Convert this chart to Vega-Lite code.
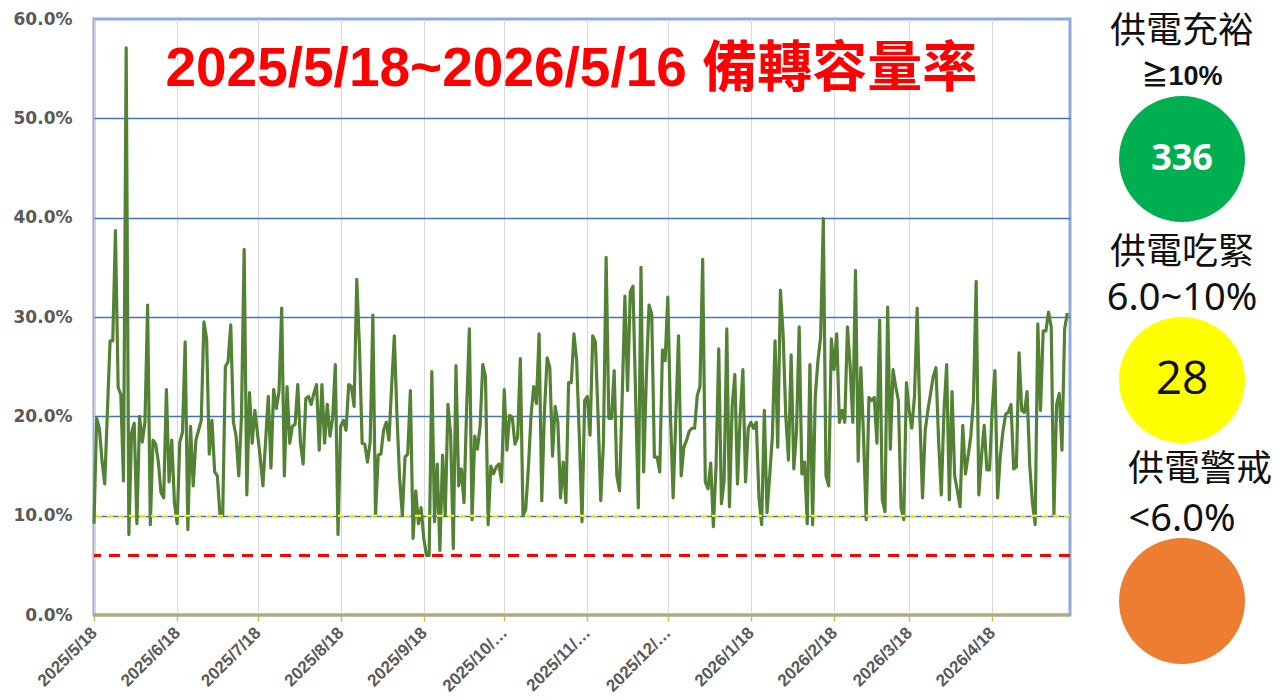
{
  "$schema": "https://vega.github.io/schema/vega-lite/v6.json",
  "padding": {"left": 11, "top": 8, "right": 5, "bottom": 0},
  "background": "white",
  "bounds": "flush",
  "spacing": 12,
  "config": {"font": "Liberation Sans"},
  "hconcat": [
    {
      "width": 976,
      "height": 596,
      "view": {"stroke": "#8EAADB", "strokeWidth": 3},
      "data": {"values": [
        {"d":"2025/5/18","v":9.2},{"d":"2025/5/19","v":19.8},{"d":"2025/5/20","v":18.8},{"d":"2025/5/21","v":15.5},{"d":"2025/5/22","v":13.2},{"d":"2025/5/23","v":20.5},{"d":"2025/5/24","v":27.6},{"d":"2025/5/25","v":27.6},{"d":"2025/5/26","v":38.7},{"d":"2025/5/27","v":22.9},{"d":"2025/5/28","v":22.2},{"d":"2025/5/29","v":13.5},{"d":"2025/5/30","v":57.1},{"d":"2025/5/31","v":8.1},
        {"d":"2025/6/1","v":18.3},{"d":"2025/6/2","v":19.3},{"d":"2025/6/3","v":9.2},{"d":"2025/6/4","v":20.0},{"d":"2025/6/5","v":17.4},{"d":"2025/6/6","v":19.4},{"d":"2025/6/7","v":31.2},{"d":"2025/6/8","v":9.1},{"d":"2025/6/9","v":17.6},{"d":"2025/6/10","v":17.2},{"d":"2025/6/11","v":15.4},{"d":"2025/6/12","v":12.3},{"d":"2025/6/13","v":11.8},{"d":"2025/6/14","v":22.7},{"d":"2025/6/15","v":13.4},{"d":"2025/6/16","v":17.6},{"d":"2025/6/17","v":11.3},{"d":"2025/6/18","v":9.2},{"d":"2025/6/19","v":17.4},{"d":"2025/6/20","v":18.4},{"d":"2025/6/21","v":27.5},{"d":"2025/6/22","v":8.6},{"d":"2025/6/23","v":19.0},{"d":"2025/6/24","v":13.0},{"d":"2025/6/25","v":17.6},{"d":"2025/6/26","v":18.6},{"d":"2025/6/27","v":19.6},{"d":"2025/6/28","v":29.5},{"d":"2025/6/29","v":27.8},{"d":"2025/6/30","v":16.2},
        {"d":"2025/7/1","v":19.6},{"d":"2025/7/2","v":14.4},{"d":"2025/7/3","v":14.0},{"d":"2025/7/4","v":10.0},{"d":"2025/7/5","v":10.0},{"d":"2025/7/6","v":25.0},{"d":"2025/7/7","v":25.5},{"d":"2025/7/8","v":29.2},{"d":"2025/7/9","v":19.4},{"d":"2025/7/10","v":18.0},{"d":"2025/7/11","v":14.0},{"d":"2025/7/12","v":20.0},{"d":"2025/7/13","v":36.8},{"d":"2025/7/14","v":12.1},{"d":"2025/7/15","v":22.4},{"d":"2025/7/16","v":17.3},{"d":"2025/7/17","v":20.6},{"d":"2025/7/18","v":18.2},{"d":"2025/7/19","v":15.9},{"d":"2025/7/20","v":13.0},{"d":"2025/7/21","v":17.5},{"d":"2025/7/22","v":22.0},{"d":"2025/7/23","v":14.8},{"d":"2025/7/24","v":22.7},{"d":"2025/7/25","v":20.8},{"d":"2025/7/26","v":22.5},{"d":"2025/7/27","v":30.9},{"d":"2025/7/28","v":14.0},{"d":"2025/7/29","v":23.0},{"d":"2025/7/30","v":17.3},{"d":"2025/7/31","v":19.0},
        {"d":"2025/8/1","v":19.2},{"d":"2025/8/2","v":23.2},{"d":"2025/8/3","v":17.3},{"d":"2025/8/4","v":15.2},{"d":"2025/8/5","v":21.8},{"d":"2025/8/6","v":22.0},{"d":"2025/8/7","v":21.2},{"d":"2025/8/8","v":22.3},{"d":"2025/8/9","v":23.2},{"d":"2025/8/10","v":16.6},{"d":"2025/8/11","v":23.2},{"d":"2025/8/12","v":17.3},{"d":"2025/8/13","v":21.2},{"d":"2025/8/14","v":18.0},{"d":"2025/8/15","v":19.8},{"d":"2025/8/16","v":25.2},{"d":"2025/8/17","v":8.1},{"d":"2025/8/18","v":19.0},{"d":"2025/8/19","v":19.6},{"d":"2025/8/20","v":18.6},{"d":"2025/8/21","v":23.2},{"d":"2025/8/22","v":23.0},{"d":"2025/8/23","v":21.0},{"d":"2025/8/24","v":33.8},{"d":"2025/8/25","v":27.0},{"d":"2025/8/26","v":17.3},{"d":"2025/8/27","v":17.2},{"d":"2025/8/28","v":15.4},{"d":"2025/8/29","v":17.4},{"d":"2025/8/30","v":30.2},{"d":"2025/8/31","v":10.0},
        {"d":"2025/9/1","v":16.1},{"d":"2025/9/2","v":16.2},{"d":"2025/9/3","v":18.6},{"d":"2025/9/4","v":19.4},{"d":"2025/9/5","v":17.6},{"d":"2025/9/6","v":23.0},{"d":"2025/9/7","v":28.1},{"d":"2025/9/8","v":20.0},{"d":"2025/9/9","v":13.7},{"d":"2025/9/10","v":10.0},{"d":"2025/9/11","v":15.9},{"d":"2025/9/12","v":16.2},{"d":"2025/9/13","v":22.6},{"d":"2025/9/14","v":7.7},{"d":"2025/9/15","v":12.5},{"d":"2025/9/16","v":9.2},{"d":"2025/9/17","v":10.8},{"d":"2025/9/18","v":7.7},{"d":"2025/9/19","v":6.0},{"d":"2025/9/20","v":6.0},{"d":"2025/9/21","v":24.5},{"d":"2025/9/22","v":9.4},{"d":"2025/9/23","v":15.2},{"d":"2025/9/24","v":6.5},{"d":"2025/9/25","v":16.1},{"d":"2025/9/26","v":10.0},{"d":"2025/9/27","v":21.2},{"d":"2025/9/28","v":18.2},{"d":"2025/9/29","v":6.7},{"d":"2025/9/30","v":25.1},
        {"d":"2025/10/1","v":13.0},{"d":"2025/10/2","v":14.7},{"d":"2025/10/3","v":11.3},{"d":"2025/10/4","v":21.0},{"d":"2025/10/5","v":28.8},{"d":"2025/10/6","v":9.6},{"d":"2025/10/7","v":18.0},{"d":"2025/10/8","v":16.7},{"d":"2025/10/9","v":19.0},{"d":"2025/10/10","v":25.2},{"d":"2025/10/11","v":24.0},{"d":"2025/10/12","v":9.1},{"d":"2025/10/13","v":15.0},{"d":"2025/10/14","v":14.2},{"d":"2025/10/15","v":14.9},{"d":"2025/10/16","v":15.2},{"d":"2025/10/17","v":13.4},{"d":"2025/10/18","v":22.7},{"d":"2025/10/19","v":16.6},{"d":"2025/10/20","v":20.1},{"d":"2025/10/21","v":19.9},{"d":"2025/10/22","v":17.2},{"d":"2025/10/23","v":17.9},{"d":"2025/10/24","v":25.8},{"d":"2025/10/25","v":10.0},{"d":"2025/10/26","v":10.6},{"d":"2025/10/27","v":14.8},{"d":"2025/10/28","v":20.1},{"d":"2025/10/29","v":23.0},{"d":"2025/10/30","v":21.3},{"d":"2025/10/31","v":28.3},
        {"d":"2025/11/1","v":11.5},{"d":"2025/11/2","v":20.5},{"d":"2025/11/3","v":25.9},{"d":"2025/11/4","v":24.9},{"d":"2025/11/5","v":16.0},{"d":"2025/11/6","v":21.0},{"d":"2025/11/7","v":19.4},{"d":"2025/11/8","v":11.8},{"d":"2025/11/9","v":15.4},{"d":"2025/11/10","v":11.3},{"d":"2025/11/11","v":23.4},{"d":"2025/11/12","v":23.4},{"d":"2025/11/13","v":28.3},{"d":"2025/11/14","v":25.6},{"d":"2025/11/15","v":18.0},{"d":"2025/11/16","v":9.4},{"d":"2025/11/17","v":21.6},{"d":"2025/11/18","v":22.0},{"d":"2025/11/19","v":18.1},{"d":"2025/11/20","v":28.1},{"d":"2025/11/21","v":27.5},{"d":"2025/11/22","v":20.0},{"d":"2025/11/23","v":11.5},{"d":"2025/11/24","v":17.4},{"d":"2025/11/25","v":36.0},{"d":"2025/11/26","v":19.8},{"d":"2025/11/27","v":19.8},{"d":"2025/11/28","v":24.6},{"d":"2025/11/29","v":14.0},{"d":"2025/11/30","v":12.5},
        {"d":"2025/12/1","v":22.0},{"d":"2025/12/2","v":32.1},{"d":"2025/12/3","v":22.6},{"d":"2025/12/4","v":32.5},{"d":"2025/12/5","v":33.1},{"d":"2025/12/6","v":22.0},{"d":"2025/12/7","v":10.8},{"d":"2025/12/8","v":35.0},{"d":"2025/12/9","v":14.4},{"d":"2025/12/10","v":24.0},{"d":"2025/12/11","v":31.2},{"d":"2025/12/12","v":30.3},{"d":"2025/12/13","v":15.9},{"d":"2025/12/14","v":15.9},{"d":"2025/12/15","v":14.4},{"d":"2025/12/16","v":26.7},{"d":"2025/12/17","v":25.6},{"d":"2025/12/18","v":32.0},{"d":"2025/12/19","v":20.0},{"d":"2025/12/20","v":11.8},{"d":"2025/12/21","v":20.0},{"d":"2025/12/22","v":28.1},{"d":"2025/12/23","v":14.0},{"d":"2025/12/24","v":16.9},{"d":"2025/12/25","v":17.6},{"d":"2025/12/26","v":18.5},{"d":"2025/12/27","v":18.8},{"d":"2025/12/28","v":18.8},{"d":"2025/12/29","v":22.1},{"d":"2025/12/30","v":23.0},{"d":"2025/12/31","v":35.8},
        {"d":"2026/1/1","v":13.4},{"d":"2026/1/2","v":12.7},{"d":"2026/1/3","v":15.3},{"d":"2026/1/4","v":8.9},{"d":"2026/1/5","v":15.0},{"d":"2026/1/6","v":26.8},{"d":"2026/1/7","v":11.2},{"d":"2026/1/8","v":13.5},{"d":"2026/1/9","v":28.8},{"d":"2026/1/10","v":10.9},{"d":"2026/1/11","v":21.0},{"d":"2026/1/12","v":24.2},{"d":"2026/1/13","v":13.2},{"d":"2026/1/14","v":20.0},{"d":"2026/1/15","v":24.7},{"d":"2026/1/16","v":13.4},{"d":"2026/1/17","v":18.8},{"d":"2026/1/18","v":19.4},{"d":"2026/1/19","v":18.8},{"d":"2026/1/20","v":19.4},{"d":"2026/1/21","v":11.8},{"d":"2026/1/22","v":9.1},{"d":"2026/1/23","v":20.6},{"d":"2026/1/24","v":10.3},{"d":"2026/1/25","v":14.0},{"d":"2026/1/26","v":18.0},{"d":"2026/1/27","v":27.6},{"d":"2026/1/28","v":16.9},{"d":"2026/1/29","v":32.7},{"d":"2026/1/30","v":28.3},{"d":"2026/1/31","v":20.0},
        {"d":"2026/2/1","v":15.6},{"d":"2026/2/2","v":26.2},{"d":"2026/2/3","v":14.7},{"d":"2026/2/4","v":18.5},{"d":"2026/2/5","v":29.0},{"d":"2026/2/6","v":14.2},{"d":"2026/2/7","v":15.4},{"d":"2026/2/8","v":9.2},{"d":"2026/2/9","v":25.2},{"d":"2026/2/10","v":9.1},{"d":"2026/2/11","v":22.0},{"d":"2026/2/12","v":25.6},{"d":"2026/2/13","v":28.0},{"d":"2026/2/14","v":39.9},{"d":"2026/2/15","v":14.0},{"d":"2026/2/16","v":13.0},{"d":"2026/2/17","v":27.8},{"d":"2026/2/18","v":24.7},{"d":"2026/2/19","v":28.3},{"d":"2026/2/20","v":19.4},{"d":"2026/2/21","v":20.6},{"d":"2026/2/22","v":19.4},{"d":"2026/2/23","v":29.0},{"d":"2026/2/24","v":25.0},{"d":"2026/2/25","v":19.4},{"d":"2026/2/26","v":34.7},{"d":"2026/2/27","v":15.5},{"d":"2026/2/28","v":24.9},
        {"d":"2026/3/1","v":18.0},{"d":"2026/3/2","v":9.6},{"d":"2026/3/3","v":21.9},{"d":"2026/3/4","v":21.6},{"d":"2026/3/5","v":21.9},{"d":"2026/3/6","v":17.3},{"d":"2026/3/7","v":29.7},{"d":"2026/3/8","v":11.6},{"d":"2026/3/9","v":10.4},{"d":"2026/3/10","v":31.0},{"d":"2026/3/11","v":16.7},{"d":"2026/3/12","v":24.7},{"d":"2026/3/13","v":23.0},{"d":"2026/3/14","v":21.6},{"d":"2026/3/15","v":10.8},{"d":"2026/3/16","v":9.6},{"d":"2026/3/17","v":23.4},{"d":"2026/3/18","v":20.6},{"d":"2026/3/19","v":18.8},{"d":"2026/3/20","v":22.0},{"d":"2026/3/21","v":30.9},{"d":"2026/3/22","v":20.0},{"d":"2026/3/23","v":11.8},{"d":"2026/3/24","v":18.6},{"d":"2026/3/25","v":20.6},{"d":"2026/3/26","v":22.3},{"d":"2026/3/27","v":24.0},{"d":"2026/3/28","v":24.9},{"d":"2026/3/29","v":17.5},{"d":"2026/3/30","v":12.1},{"d":"2026/3/31","v":20.5},
        {"d":"2026/4/1","v":25.2},{"d":"2026/4/2","v":11.6},{"d":"2026/4/3","v":22.5},{"d":"2026/4/4","v":14.0},{"d":"2026/4/5","v":12.5},{"d":"2026/4/6","v":10.9},{"d":"2026/4/7","v":19.1},{"d":"2026/4/8","v":14.2},{"d":"2026/4/9","v":16.0},{"d":"2026/4/10","v":18.0},{"d":"2026/4/11","v":21.6},{"d":"2026/4/12","v":33.6},{"d":"2026/4/13","v":12.1},{"d":"2026/4/14","v":16.0},{"d":"2026/4/15","v":19.1},{"d":"2026/4/16","v":14.6},{"d":"2026/4/17","v":14.6},{"d":"2026/4/18","v":20.8},{"d":"2026/4/19","v":24.6},{"d":"2026/4/20","v":11.8},{"d":"2026/4/21","v":16.0},{"d":"2026/4/22","v":18.5},{"d":"2026/4/23","v":20.2},{"d":"2026/4/24","v":20.4},{"d":"2026/4/25","v":21.2},{"d":"2026/4/26","v":14.7},{"d":"2026/4/27","v":14.9},{"d":"2026/4/28","v":26.4},{"d":"2026/4/29","v":20.6},{"d":"2026/4/30","v":20.4},
        {"d":"2026/5/1","v":22.5},{"d":"2026/5/2","v":15.0},{"d":"2026/5/3","v":11.3},{"d":"2026/5/4","v":9.1},{"d":"2026/5/5","v":29.3},{"d":"2026/5/6","v":20.6},{"d":"2026/5/7","v":28.6},{"d":"2026/5/8","v":28.6},{"d":"2026/5/9","v":30.5},{"d":"2026/5/10","v":29.0},{"d":"2026/5/11","v":10.0},{"d":"2026/5/12","v":21.2},{"d":"2026/5/13","v":22.3},{"d":"2026/5/14","v":16.6},{"d":"2026/5/15","v":28.8},{"d":"2026/5/16","v":30.4}
      ]},
      "encoding": {
        "x": {
          "field": "d",
          "type": "temporal",
          "title": null,
          "scale": {"domain": [{"year": 2025, "month": 5, "date": 18}, {"year": 2026, "month": 5, "date": 17}]},
          "axis": {
            "values": [
              {"year": 2025, "month": 5, "date": 18}, {"year": 2025, "month": 6, "date": 18}, {"year": 2025, "month": 7, "date": 18},
              {"year": 2025, "month": 8, "date": 18}, {"year": 2025, "month": 9, "date": 18}, {"year": 2025, "month": 10, "date": 18},
              {"year": 2025, "month": 11, "date": 18}, {"year": 2025, "month": 12, "date": 18}, {"year": 2026, "month": 1, "date": 18},
              {"year": 2026, "month": 2, "date": 18}, {"year": 2026, "month": 3, "date": 18}, {"year": 2026, "month": 4, "date": 18}
            ],
            "labelExpr": "(year(datum.value) == 2025 && month(datum.value) >= 9) ? timeFormat(datum.value, '%Y/%-m/') + '…' : timeFormat(datum.value, '%Y/%-m/%-d')",
            "labelAngle": -45,
            "labelAlign": "right",
            "labelBaseline": "middle",
            "labelFont": "Liberation Sans",
            "labelFontSize": 17,
            "labelFontWeight": "bold",
            "labelColor": "#595959",
            "labelPadding": 9,
            "labelOverlap": false,
            "labelFlush": false,
            "domain": false,
            "ticks": true,
            "tickColor": "#C9BC5A",
            "tickSize": 6,
            "tickWidth": 1.5,
            "grid": true,
            "gridColor": "#D9D9D9",
            "gridWidth": 1
          }
        },
        "y": {
          "field": "v",
          "type": "quantitative",
          "title": null,
          "scale": {"domain": [0, 60], "nice": false},
          "axis": {
            "values": [0, 10, 20, 30, 40, 50, 60],
            "labelExpr": "format(datum.value, '.1f') + '%'",
            "labelFont": "DejaVu Sans",
            "labelFontSize": 17,
            "labelFontWeight": "bold",
            "labelColor": "#595959",
            "labelPadding": 22,
            "ticks": false,
            "tickSize": 0,
            "domain": false,
            "grid": true,
            "gridColor": {"condition": {"test": "datum.value == 0 || datum.value == 60", "value": "transparent"}, "value": "#4472C4"},
            "gridWidth": 1.5
          }
        }
      },
      "layer": [
        {"mark": {"type": "line", "color": "#548235", "strokeWidth": 3.2, "strokeJoin": "round"}},
        {"data": {"values": [{"level": 10}]}, "mark": {"type": "rule", "color": "#FFFF00", "strokeWidth": 2, "strokeDash": [6, 5]}, "encoding": {"x": null, "y": {"field": "level", "type": "quantitative"}}},
        {"data": {"values": [{"level": 6}]}, "mark": {"type": "rule", "color": "#FF0000", "strokeWidth": 3, "strokeDash": [11, 8]}, "encoding": {"x": null, "y": {"field": "level", "type": "quantitative"}}},
        {"data": {"values": [{"level": 0}]}, "mark": {"type": "rule", "color": "#B3AC74", "strokeWidth": 3}, "encoding": {"x": null, "y": {"field": "level", "type": "quantitative"}}},
        {
          "data": {"values": [{"t": "2025/5/18~2026/5/16  備轉容量率", "at": "2025/11/12", "lv": 55.0}]},
          "mark": {"type": "text", "color": "#FF0000", "font": "Liberation Sans, Noto Sans CJK TC", "fontSize": 55, "fontWeight": "bold", "baseline": "middle", "align": "center"},
          "encoding": {
            "x": {"field": "at", "type": "temporal"},
            "y": {"field": "lv", "type": "quantitative"},
            "text": {"field": "t", "type": "nominal"}
          }
        }
      ]
    },
    {
      "width": 200,
      "height": 650,
      "view": {"stroke": null},
      "data": {"values": [
        {"level": "供電充裕", "range": "≧10%", "days": "336"},
        {"level": "供電吃緊", "range": "6.0~10%", "days": "28"},
        {"level": "供電警戒", "range": "<6.0%", "days": ""}
      ]},
      "encoding": {
        "y": {"field": "level", "type": "nominal", "sort": null, "scale": {"type": "point", "padding": 0, "range": [140, 582]}, "axis": null}
      },
      "layer": [
        {
          "mark": {"type": "circle", "size": 15876, "opacity": 1},
          "encoding": {"color": {"field": "level", "type": "nominal", "scale": {"domain": ["供電充裕", "供電吃緊", "供電警戒"], "range": ["#00B050", "#FFFF00", "#ED7D31"]}, "legend": null}}
        },
        {
          "transform": [{"filter": "datum.level != '供電警戒'"}],
          "mark": {"type": "text", "dy": -127, "fontSize": 36, "font": "Noto Sans CJK TC", "color": "#111111"},
          "encoding": {"text": {"field": "level"}}
        },
        {
          "transform": [{"filter": "datum.level == '供電警戒'"}],
          "mark": {"type": "text", "dy": -131, "dx": 18, "fontSize": 36, "font": "Noto Sans CJK TC", "color": "#111111"},
          "encoding": {"text": {"field": "level"}}
        },
        {
          "transform": [{"filter": "datum.level == '供電充裕'"}],
          "mark": {"type": "text", "dy": -82, "fontSize": 27, "fontWeight": "bold", "font": "Liberation Sans, Noto Sans CJK TC", "color": "#111111"},
          "encoding": {"text": {"field": "range"}}
        },
        {
          "transform": [{"filter": "datum.level != '供電充裕'"}],
          "mark": {"type": "text", "dy": -81, "fontSize": 38, "font": "Noto Sans", "color": "#111111"},
          "encoding": {"text": {"field": "range"}}
        },
        {
          "transform": [{"filter": "datum.level == '供電充裕'"}],
          "mark": {"type": "text", "fontSize": 36, "fontWeight": "bold", "font": "Open Sans", "color": "white"},
          "encoding": {"text": {"field": "days"}}
        },
        {
          "transform": [{"filter": "datum.level == '供電吃緊'"}],
          "mark": {"type": "text", "fontSize": 46, "font": "Open Sans", "color": "#111111"},
          "encoding": {"text": {"field": "days"}}
        }
      ]
    }
  ]
}
